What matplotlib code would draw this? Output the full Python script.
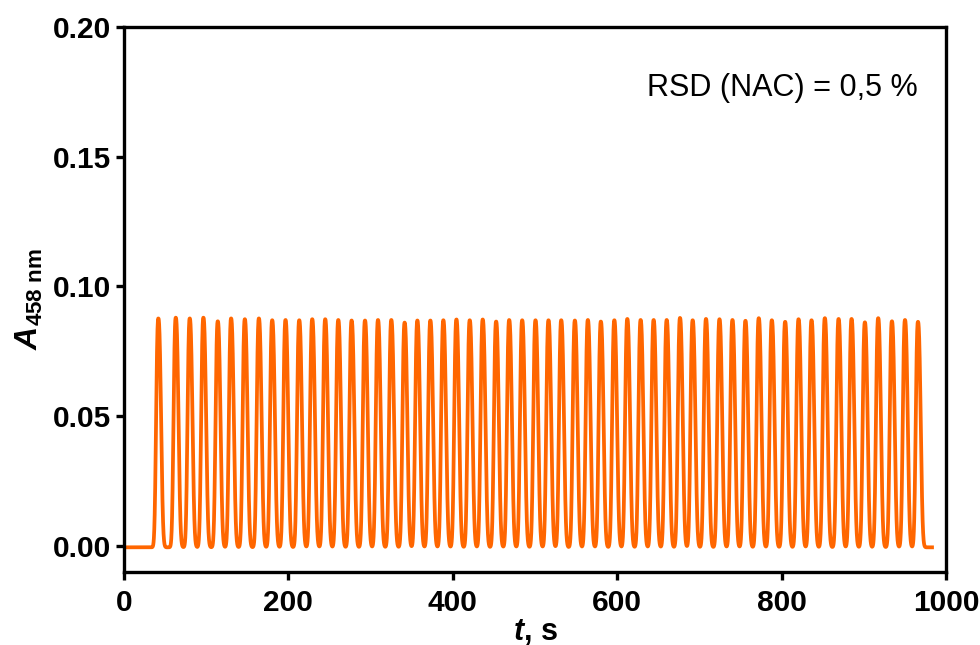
import matplotlib
matplotlib.use("Agg")
import matplotlib.pyplot as plt
import numpy as np

# peak times (s) and peak heights
peak_t = [41.8, 63.0, 80.0, 96.6, 114.1, 130.3, 147.0, 164.1, 180.3, 196.5,
          213.2, 229.0, 244.8, 260.7, 276.9, 293.2, 309.0, 325.2, 341.4, 356.9,
          372.7, 388.5, 404.4, 420.6, 436.4, 452.7, 468.6, 484.4, 500.6, 516.4,
          531.9, 548.5, 564.3, 580.1, 596.5, 612.3, 628.5, 644.3, 660.2, 676.4,
          691.8, 708.0, 724.4, 740.2, 756.0, 772.2, 788.1, 804.3, 820.6, 836.4,
          852.6, 869.3, 885.1, 901.3, 917.5, 934.2, 950.1, 965.9]
peak_h = [0.0877, 0.0880, 0.0877, 0.0880, 0.0866, 0.0877, 0.0874, 0.0877, 0.0870, 0.0871,
          0.0870, 0.0874, 0.0874, 0.0871, 0.0869, 0.0869, 0.0871, 0.0871, 0.0861, 0.0869,
          0.0869, 0.0870, 0.0873, 0.0870, 0.0873, 0.0865, 0.0871, 0.0870, 0.0870, 0.0870,
          0.0870, 0.0869, 0.0871, 0.0865, 0.0870, 0.0875, 0.0871, 0.0871, 0.0871, 0.0879,
          0.0870, 0.0875, 0.0874, 0.0871, 0.0868, 0.0878, 0.0870, 0.0864, 0.0874, 0.0870,
          0.0878, 0.0875, 0.0875, 0.0862, 0.0878, 0.0866, 0.0871, 0.0864]
baseline = -0.0005
t_end = 983.0
rsd_text = "RSD (NAC) = 0,5 %"

plt.rcParams["font.family"] = ["Liberation Sans", "DejaVu Sans"]
plt.rcParams["mathtext.fontset"] = "custom"
plt.rcParams["mathtext.rm"] = "Liberation Sans"
plt.rcParams["mathtext.bf"] = "Liberation Sans:bold"
plt.rcParams["mathtext.it"] = "Liberation Sans:italic"
plt.rcParams["mathtext.bfit"] = "Liberation Sans:bold:italic"

# flow-injection peak shape: fast rise, slightly slower return
t = np.linspace(0, t_end, 8000)
y = np.full_like(t, baseline)
for pt, ph in zip(peak_t, peak_h):
    d = t - pt
    sig = np.where(d < 0, 3.4, 4.2)
    y += (ph - baseline) * np.exp(-np.abs(d / sig) ** 2.5)

fig = plt.figure(figsize=(9.8, 6.45), dpi=100)
ax = fig.add_axes([0.1265, 0.1132, 0.8388, 0.845])

ax.plot(t, y, color="#FF6600", lw=2.7, solid_joinstyle="round")

ax.set_xlim(0, 1000)
ax.set_ylim(-0.01, 0.20)
ax.set_xticks(np.arange(0, 1001, 200))
ax.set_yticks(np.arange(0, 0.201, 0.05))
ax.set_yticklabels([f"{v:.2f}" for v in np.arange(0, 0.201, 0.05)])

for s in ax.spines.values():
    s.set_linewidth(2.4)
ax.tick_params(direction="out", length=6, width=2.4, labelsize=21.5, pad=3)
ax.tick_params(axis="x", pad=6)
for lab in ax.get_xticklabels() + ax.get_yticklabels():
    lab.set_fontweight("bold")

ax.set_xlabel(r"$\mathbfit{t}$, s", fontsize=22, fontweight="bold", labelpad=0)
ax.set_ylabel(r"$\mathbfit{A}_{\mathbf{458\ nm}}$", fontsize=23, labelpad=6)

ax.text(0.966, 0.888, rsd_text, transform=ax.transAxes, ha="right", va="center",
        fontsize=22)

fig.savefig("out.png", dpi=100)
